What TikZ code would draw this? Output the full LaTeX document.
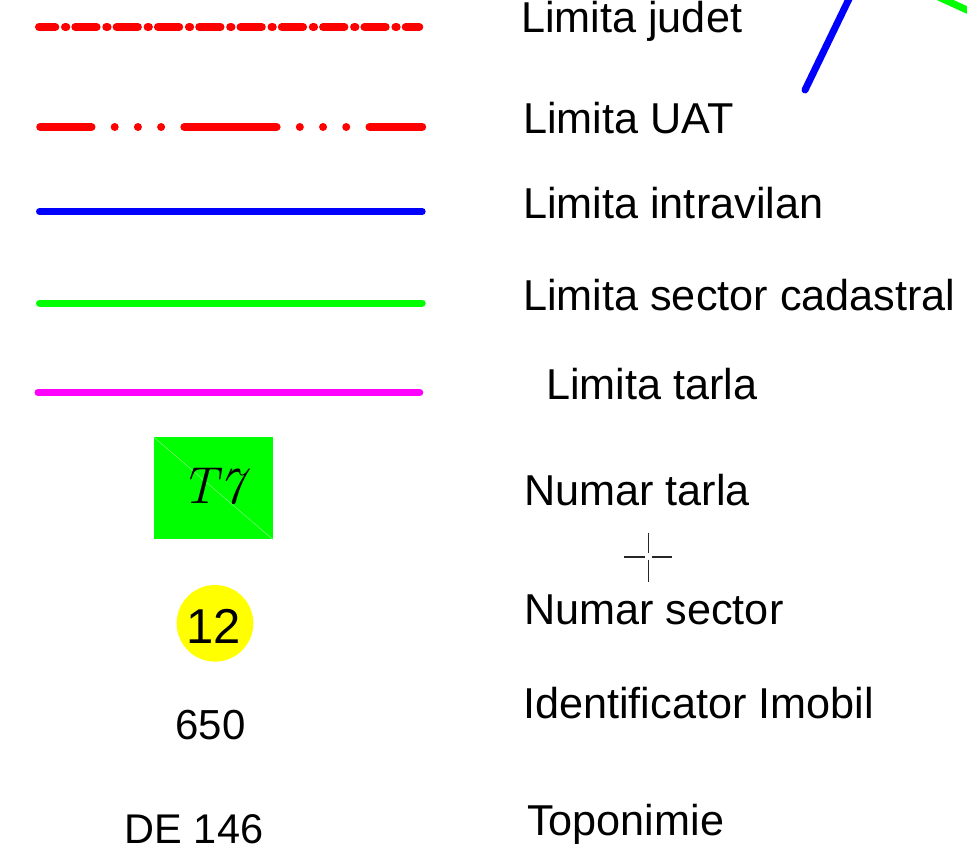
\documentclass[tikz,border=0pt]{standalone}
\usepackage{fontspec}
\newfontfamily\arial{Liberation Sans}
\begin{document}
\definecolor{cRed}{RGB}{255,0,0}
\definecolor{cBlue}{RGB}{0,0,255}
\definecolor{cGreen}{RGB}{0,255,0}
\definecolor{cMag}{RGB}{255,0,255}
\definecolor{cYel}{RGB}{255,255,0}
\begin{tikzpicture}[x=1pt,y=-1pt,
  lbl/.style={anchor=base west,inner sep=0pt,font=\arial\fontsize{43.2}{50}\selectfont},
  sym/.style={anchor=base,inner sep=0pt},
  legline/.style={line width=7pt,line cap=round},
  redline/.style={line width=8pt,line cap=round,draw=cRed}]
\useasboundingbox (0,0) rectangle (967,859);
\clip (0,0) rectangle (967,859);
% map fragments at top right
\coordinate (b1) at (805,90);
\coordinate (b2) at (853.3,-10);
\draw[cBlue,line width=7pt,line cap=round] (b1) -- (b2);
\coordinate (g1) at (932,-6);
\coordinate (g2) at (990,20.5);
\draw[cGreen,line width=7pt] (g1) -- (g2);
% legend lines
\coordinate (l1a) at (39,27);   \coordinate (l1b) at (419.3,27);
\coordinate (l2a) at (40.2,127); \coordinate (l2b) at (422.2,127);
\coordinate (l3a) at (39.5,211.5); \coordinate (l3b) at (422.2,211.5);
\coordinate (l4a) at (39.5,303); \coordinate (l4b) at (422.2,303);
\coordinate (l5a) at (38,392.5); \coordinate (l5b) at (419.8,392.5);
\draw[redline,dash pattern=on 21.3pt off 9.7pt on 1.3pt off 9pt,dash phase=5pt] (l1a) -- (l1b);
\draw[redline,dash pattern=on 92.3pt off 23.2pt on 0.01pt off 23.2pt on 0.01pt off 23.2pt on 0.01pt off 23.2pt,dash phase=41pt] (l2a) -- (l2b);
\draw[legline,cBlue] (l3a) -- (l3b);
\draw[legline,cGreen] (l4a) -- (l4b);
\draw[legline,cMag] (l5a) -- (l5b);
% T7 box
\fill[cGreen] (154,437.3) coordinate (t1) rectangle (272.7,539.3) coordinate (t2);
\draw[cGreen!55!white,line width=0.6pt] (t1) -- (t2);
\node[sym,font=\fontsize{52}{60}\selectfont\itshape] (t7) at (213,503) {T7};
% sector circle
\fill[cYel] (215,623.3) circle[radius=38.3];
\node[sym,font=\arial\fontsize{49}{58}\selectfont] (n12) at (214,643.3) {12};
\node[sym,font=\arial\fontsize{42}{49}\selectfont] (n650) at (210.5,739) {650};
\node[sym,font=\arial\fontsize{41.5}{48}\selectfont] (nde) at (194,843) {DE 146};
% crosshair
\coordinate (cv1) at (648.3,532.7); \coordinate (cv2) at (648.3,553.3);
\coordinate (cv3) at (648.3,559.7); \coordinate (cv4) at (648.3,581.7);
\coordinate (ch1) at (624,556.7); \coordinate (ch2) at (645,556.7);
\coordinate (ch3) at (651.5,556.7); \coordinate (ch4) at (671.7,556.7);
\draw[black!85,line width=1.6pt] (cv1) -- (cv2) (cv3) -- (cv4) (ch1) -- (ch2) (ch3) -- (ch4);
% labels
\node[lbl] (t1l) at (521,33) {Limita judet};
\node[lbl] (t2l) at (523,133) {Limita UAT};
\node[lbl] (t3l) at (523,218) {Limita intravilan};
\node[lbl] (t4l) at (523,310) {Limita sector cadastral};
\node[lbl] (t5l) at (546,399) {Limita tarla};
\node[lbl] (t6l) at (524,505) {Numar tarla};
\node[lbl] (t7l) at (524,624) {Numar sector};
\node[lbl] (t8l) at (523,718) {Identificator Imobil};
\node[lbl] (t9l) at (527,835) {Toponimie};
\end{tikzpicture}
\end{document}
